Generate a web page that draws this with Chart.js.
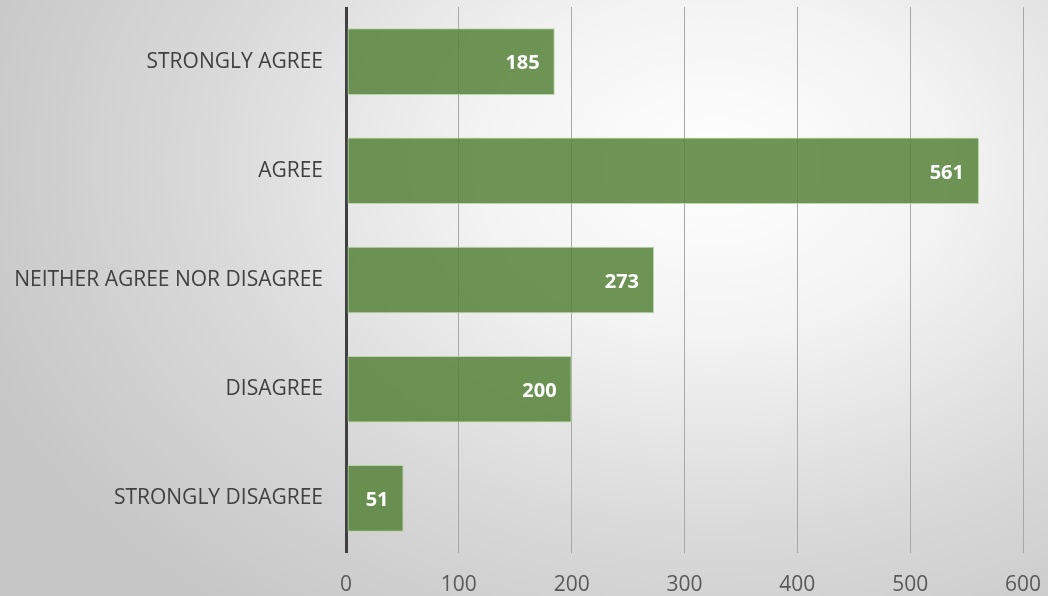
<!DOCTYPE html>
<html>
<head>
<meta charset="utf-8">
<script src="https://cdn.jsdelivr.net/npm/chart.js@4"></script>
<style>
    html, body { margin: 0; padding: 0; }
    #wrap {
        width: 1048px; height: 596px; position: relative;
        background: radial-gradient(ellipse 75% 95% at 68% 28%, #ffffff 0%, #f3f3f3 30%, #d9d9d9 65%, #c6c6c6 100%);
    }
</style>
</head>
<body>
<div id="wrap"><canvas id="survey" width="1048" height="596"></canvas></div>
<script>
// 응답 분포 (막대 위 숫자 그대로)
const categories = ['STRONGLY AGREE', 'AGREE', 'NEITHER AGREE NOR DISAGREE', 'DISAGREE', 'STRONGLY DISAGREE'];
const responses = [185, 561, 273, 200, 51];
const xTicks = [0, 100, 200, 300, 400, 500, 600];

// 막대 끝 안쪽에 흰색 굵은 값 표시
const barValueLabels = {
    id: 'barValueLabels',
    afterDatasetsDraw(chart) {
        const { ctx } = chart;
        const meta = chart.getDatasetMeta(0);
        ctx.save();
        ctx.font = 'bold 20px "Open Sans", sans-serif';
        ctx.fillStyle = '#ffffff';
        ctx.textAlign = 'right';
        ctx.textBaseline = 'middle';
        meta.data.forEach((bar, i) => {
            ctx.fillText(String(responses[i]), bar.x - 15, bar.y + 2);
        });
        ctx.restore();
    }
};

new Chart(document.getElementById('survey').getContext('2d'), {
    type: 'bar',
    data: {
        labels: categories,
        datasets: [{
            data: responses,
            backgroundColor: 'rgba(86, 131, 56, 0.85)',
            borderColor: 'rgba(180, 212, 160, 0.9)',
            borderWidth: 1,
            borderSkipped: false,
            categoryPercentage: 1,
            barPercentage: 0.61,
        }]
    },
    options: {
        indexAxis: 'y',
        responsive: false,
        animation: false,
        layout: { padding: { top: 7, right: 25, bottom: 0, left: 0 } },
        plugins: { legend: { display: false }, tooltip: { enabled: false } },
        scales: {
            x: {
                min: 0, max: 600,
                afterBuildTicks: axis => { axis.ticks = xTicks.map(v => ({ value: v })); },
                afterFit: axis => { axis.height = 43; axis.paddingLeft = 0; axis.paddingRight = 0; },
                border: { display: false },
                grid: {
                    drawTicks: false,
                    color: c => c.tick && c.tick.value === 0 ? '#404040' : '#a8a8a8',
                    lineWidth: c => c.tick && c.tick.value === 0 ? 3 : 1,
                },
                ticks: { padding: 19, color: '#595959', font: { family: '"Open Sans", sans-serif', size: 21 } }
            },
            y: {
                afterFit: axis => { axis.width = 346; axis.paddingTop = 0; axis.paddingBottom = 0; },
                border: { display: false },
                grid: { display: false, drawTicks: false },
                ticks: { padding: 23, color: '#404040', font: { family: '"Open Sans", sans-serif', size: 21 } }
            }
        }
    },
    plugins: [barValueLabels]
});
</script>
</body>
</html>
